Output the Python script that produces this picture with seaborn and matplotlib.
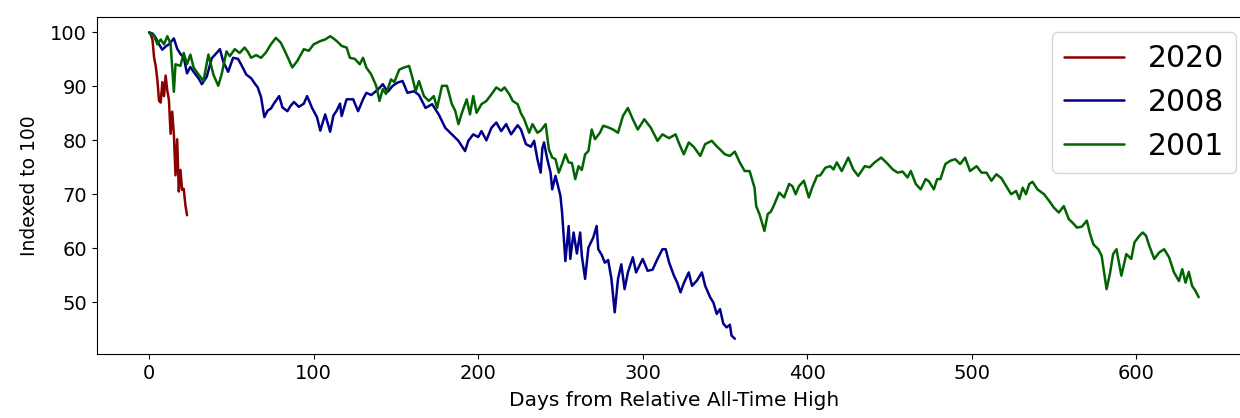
import pandas as pd
import matplotlib
matplotlib.use("Agg")
import matplotlib.pyplot as plt
import seaborn as sns

# --- Data (trading days from the high, index level) ---
days_2020 = list(range(24))
vals_2020 = [100, 99.6, 98.6, 95.3, 93.7, 91.1, 87.3, 87.0, 90.8, 88.2, 92.0, 89.2,
             87.5, 81.2, 85.3, 81.1, 73.5, 80.2, 70.5, 74.5, 70.8, 71.0, 68.0, 66.1]

days_2008 = [0, 2, 4, 6, 8, 10, 12, 15, 17, 19, 21, 23, 25, 27, 30, 32, 35, 38, 41, 43,
             45, 48, 51, 54, 56, 59, 62, 64, 66, 68, 70, 72, 74, 76, 79, 81, 84, 86, 88, 91,
             94, 96, 99, 102, 104, 107, 110, 112, 114, 116, 117, 120, 124, 127, 130, 132, 135, 139, 142, 145,
             148, 151, 154, 157, 161, 164, 168, 172, 176, 180, 184, 188, 192, 194, 197, 200, 202, 205, 208, 211,
             214, 217, 220, 224, 226, 229, 232, 234, 236, 238, 239, 240, 242, 244, 245, 247, 250, 251, 253, 255,
             256, 258, 260, 262, 263, 265, 267, 270, 272, 273, 275, 277, 279, 281, 283, 285, 287, 289, 291, 294,
             296, 300, 303, 306, 309, 312, 314, 316, 319, 321, 323, 325, 328, 330, 333, 336, 338, 341, 343, 345,
             347, 349, 351, 353, 354, 356]
vals_2008 = [100, 99.8, 99.0, 97.8, 96.8, 97.4, 97.8, 98.9, 97.0, 96.0, 95.4, 92.4, 93.6, 92.7, 91.5, 90.4, 91.8, 95.2, 96.2, 96.9,
             94.6, 92.7, 95.3, 95.1, 94.0, 92.2, 91.5, 90.6, 89.8, 88.0, 84.3, 85.5, 85.9, 86.9, 88.2, 86.1, 85.4, 86.4, 87.1, 86.2,
             86.8, 88.2, 86.0, 84.3, 81.8, 84.8, 81.6, 84.6, 85.5, 86.8, 84.5, 87.6, 87.6, 85.4, 87.6, 88.8, 88.4, 89.4, 90.4, 89.0,
             90.1, 90.7, 91.0, 88.8, 89.1, 88.4, 86.0, 86.7, 84.8, 82.3, 81.1, 79.9, 78.0, 79.9, 81.1, 80.6, 81.7, 80.0, 82.3, 83.3,
             81.7, 83.0, 81.1, 82.8, 82.0, 79.3, 78.8, 79.9, 76.5, 74.0, 78.5, 79.6, 76.5, 74.0, 70.9, 73.4, 69.7, 66.6, 57.6, 64.1,
             58.0, 62.9, 59.0, 62.9, 58.6, 54.3, 60.1, 62.0, 64.1, 59.8, 58.8, 57.3, 57.8, 54.3, 48.1, 54.3, 57.0, 52.4, 55.5, 58.3,
             55.5, 58.0, 55.8, 56.0, 58.0, 59.8, 59.8, 57.4, 54.9, 53.6, 51.8, 53.5, 55.5, 53.0, 54.0, 55.5, 53.0, 50.9, 49.9, 47.8,
             48.7, 46.0, 45.3, 45.8, 43.8, 43.2]

days_2001 = [0, 3, 5, 7, 9, 11, 13, 15, 16, 19, 21, 23, 25, 27, 30, 33, 36, 39, 42, 44,
             47, 49, 52, 55, 58, 60, 62, 65, 68, 71, 74, 77, 80, 83, 87, 90, 94, 97, 100, 104,
             107, 110, 112, 114, 117, 120, 122, 125, 128, 130, 132, 135, 138, 140, 142, 144, 147, 149, 152, 155,
             158, 160, 162, 164, 167, 170, 173, 175, 178, 181, 184, 186, 188, 190, 193, 195, 197, 199, 202, 205,
             208, 211, 214, 216, 219, 221, 224, 226, 228, 231, 233, 236, 238, 241, 243, 245, 247, 249, 251, 253,
             255, 257, 259, 261, 263, 265, 267, 269, 271, 274, 276, 279, 282, 285, 288, 291, 294, 297, 301, 305,
             309, 312, 316, 320, 322, 325, 328, 331, 335, 338, 342, 345, 347, 350, 353, 356, 359, 362, 365, 368,
             369, 371, 374, 376, 378, 380, 383, 386, 389, 391, 393, 395, 398, 401, 403, 406, 408, 411, 414, 416,
             418, 421, 425, 428, 431, 435, 438, 441, 445, 449, 452, 455, 458, 461, 463, 466, 469, 472, 474, 477,
             479, 481, 484, 487, 490, 493, 496, 499, 503, 506, 509, 512, 515, 518, 521, 524, 527, 529, 531, 533,
             535, 537, 540, 544, 547, 550, 553, 556, 559, 562, 564, 567, 570, 572, 574, 577, 579, 582, 584, 586,
             588, 591, 594, 597, 599, 602, 604, 606, 608, 611, 614, 617, 620, 623, 626, 628, 630, 632, 634, 636,
             638]
vals_2001 = [100, 99.3, 97.8, 98.7, 97.8, 99.3, 97.9, 89.0, 94.1, 93.8, 96.2, 94.1, 95.9, 93.5, 92.2, 91.0, 95.9, 92.2, 90.1, 92.2,
             96.5, 95.6, 96.9, 96.2, 97.2, 96.4, 95.3, 95.8, 95.3, 96.3, 97.8, 99.0, 98.1, 96.2, 93.5, 94.7, 96.9, 96.6, 97.8, 98.4,
             98.7, 99.3, 98.9, 98.4, 97.5, 97.2, 95.3, 95.1, 94.1, 95.3, 93.5, 92.2, 90.1, 87.3, 89.5, 88.6, 91.3, 90.8, 93.1, 93.5,
             93.8, 91.6, 89.1, 91.0, 88.2, 87.3, 88.2, 86.0, 90.1, 90.1, 86.7, 85.5, 83.0, 85.0, 87.6, 84.8, 88.2, 85.1, 86.7, 87.3,
             88.5, 89.8, 89.2, 89.8, 88.5, 87.3, 86.7, 85.0, 83.9, 81.4, 83.0, 81.4, 81.8, 83.0, 78.3, 76.8, 76.5, 74.0, 75.6, 77.4,
             75.9, 75.8, 72.8, 75.2, 74.5, 77.4, 78.0, 82.0, 80.2, 81.4, 82.7, 82.4, 82.0, 81.4, 84.5, 86.0, 83.9, 82.0, 83.9, 82.3,
             79.9, 81.1, 80.4, 81.1, 79.5, 77.4, 79.6, 78.8, 77.1, 79.3, 79.9, 78.9, 78.3, 77.4, 77.1, 77.9, 75.9, 74.3, 74.3, 71.2,
             67.8, 66.3, 63.2, 66.3, 66.8, 68.1, 70.3, 69.4, 71.9, 71.5, 70.0, 71.5, 72.5, 69.4, 71.2, 73.4, 73.5, 74.9, 75.2, 74.6,
             75.9, 74.3, 76.8, 74.6, 73.4, 75.2, 75.0, 75.9, 76.8, 75.6, 74.6, 74.0, 74.2, 73.1, 74.3, 71.9, 70.9, 72.8, 72.4, 70.9,
             72.8, 72.8, 75.6, 76.2, 76.5, 75.6, 76.8, 74.3, 75.2, 74.0, 74.0, 72.5, 73.7, 73.0, 71.5, 70.0, 70.6, 69.1, 71.2, 70.0,
             71.9, 72.3, 70.9, 70.0, 68.8, 67.5, 66.6, 67.8, 65.4, 64.5, 63.8, 64.0, 65.1, 62.6, 60.7, 59.8, 58.6, 52.4, 55.2, 58.9,
             59.8, 54.9, 58.9, 58.0, 61.1, 62.3, 62.9, 62.3, 60.4, 58.0, 59.2, 59.8, 58.3, 55.5, 53.9, 56.1, 53.6, 55.6, 53.0, 52.1,
             50.9]

series = [("2020", days_2020, vals_2020, "darkred"),
          ("2008", days_2008, vals_2008, "darkblue"),
          ("2001", days_2001, vals_2001, "darkgreen")]

# --- Plot ---
sns.set_style("ticks")
plt.rcParams["text.color"] = "black"
plt.rcParams["axes.labelcolor"] = "black"

fig = plt.figure(figsize=(12.4, 4.18), dpi=100)
ax = fig.add_axes([0.078, 0.153, 0.931, 0.806])

for name, d, v, c in series:
    sns.lineplot(x=d, y=v, color=c, label=name, linewidth=1.8, ax=ax)

ax.set_xlabel("Days from Relative All-Time High", fontsize=14.5, labelpad=6)
ax.set_ylabel("Indexed to 100", fontsize=13.5, labelpad=8)
ax.tick_params(labelsize=14, colors="black")
for s in ax.spines.values():
    s.set_color("black")
ax.legend(fontsize=21.5, loc="upper right")

fig.savefig("out.png", dpi=100)
